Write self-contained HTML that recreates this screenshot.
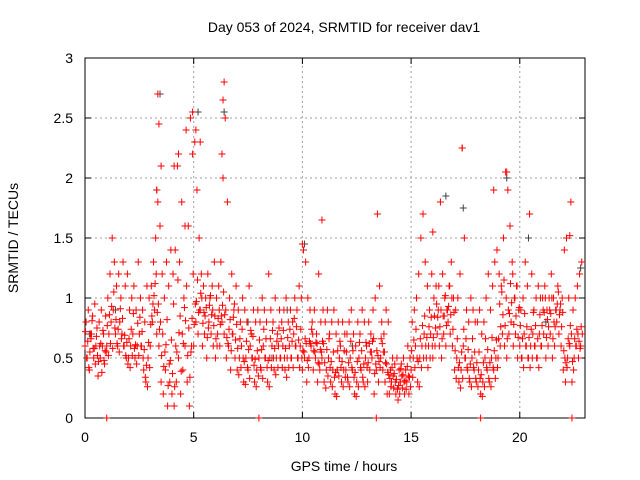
<!DOCTYPE html>
<html><head><meta charset="utf-8"><style>
html,body{margin:0;padding:0;background:#fff}
svg{display:block;font-family:"Liberation Sans",sans-serif}
</style></head><body>
<svg id="chart" width="640" height="480">
<g id="grid"></g>
<g id="axes"></g>
<g id="black"></g>
<g id="red"></g>
<text x="344" y="32" font-size="14" text-anchor="middle">Day 053 of 2024, SRMTID for receiver dav1</text>
<text x="344" y="471" font-size="14" text-anchor="middle">GPS time / hours</text>
<text transform="translate(18,238) rotate(-90)" font-size="14" text-anchor="middle">SRMTID / TECUs</text>
</svg>
<script>
const xTicks=[0,5,10,15,20];
const yTicks=[0,0.5,1,1.5,2,2.5,3];
const yTickLabels=["0","0.5","1","1.5","2","2.5","3"];
const seriesA=[.6,.5,.4,.7,.5,.6,.35,.5,.6,.45,.6,.7,.8,.9,.7,.6,.8,.7,.6,.5,.5,.6,.7,.5,.6,.7,.6,.4,.3,.5,.6,.8,.9,.7,.6,.3,.2,.4,.1,.3,.2,.1,.3,.5,.2,.4,.6,.3,.1,.6,.6,.8,.7,.9,.6,.7,.5,.8,.7,.6,.5,.7,.6,.8,.7,.5,.6,.4,.7,.5,.4,.5,.6,.3,.5,.4,.6,.5,.3,.4,.5,.4,.6,.5,.3,.5,.6,.4,.5,.6,.5,.6,.4,.5,.6,.5,.7,.6,.5,.6,.4,.5,.3,.5,.6,.4,.5,.3,.4,.5,.3,.4,.5,.3,.4,.2,.4,.5,.3,.4,.4,.3,.5,.4,.2,.3,.5,.4,.3,.5,.3,.4,.5,.2,.4,.3,.5,.4,.3,.2,.2,.3,.25,.2,.15,.3,.25,.2,.3,.2,.4,.5,.6,.3,.5,.6,.7,.5,.6,.7,.5,.6,.7,.6,.5,.7,.6,.8,.7,.6,.4,.5,.3,.4,.6,.5,.4,.3,.5,.4,.3,.4,.2,.3,.5,.4,.3,.5,.4,.5,.5,.6,.7,.6,.5,.7,.8,.6,.7,.5,.6,.5,.7,.6,.5,.6,.7,.6,.5,.7,.6,.7,.5,.6,.7,.5,.6,.8,.7,.6,.4,.3,.5,.6,.3,.5,.6,.5,.6];
const seriesB=[.8,.9,.7,.85,.95,.75,.8,.9,.7,.85,1.0,1.2,1.5,1.3,1.1,1.2,1.0,1.3,1.1,1.2,.9,1.0,1.1,.9,1.3,1.0,.9,.8,1.1,1.0,1.1,1.3,1.5,1.8,1.6,1.2,1.0,1.3,1.1,1.4,1.2,1.4,2.1,1.3,1.8,1.0,2.4,1.6,2.5,2.2,2.3,1.9,1.5,1.2,1.1,1.0,1.2,1.0,1.1,1.3,1.0,1.1,1.3,2.0,2.5,1.8,1.0,1.2,.9,1.1,.9,.8,1.0,.9,.8,1.1,.7,.9,.8,.9,.8,1.0,.9,.8,1.2,.9,.8,1.0,.7,.9,.8,.9,1.0,.8,.9,.8,1.0,.9,1.1,1.0,1.4,1.3,1.0,.9,.8,.9,.7,1.2,.8,.9,.8,.9,.7,.8,.9,.7,.8,.6,.8,.7,.7,.8,.9,.7,.6,.8,.7,.9,.8,.6,.8,.7,.9,1.0,1.7,1.1,.8,.7,.9,.8,.4,.5,.45,.5,.4,.45,.5,.4,.6,.5,.8,.9,1.0,1.2,1.5,1.7,1.3,1.1,.9,1.2,1.0,1.1,.9,1.8,1.2,1.0,.9,1.1,1.3,1.0,.9,1.0,1.2,2.25,1.5,.9,.8,1.0,.9,.8,.8,.9,.7,.8,1.0,1.2,.9,1.1,1.3,1.4,1.2,1.1,1.5,2.05,1.9,1.6,1.3,1.0,1.1,.9,.9,1.0,1.3,1.1,1.7,1.2,.9,1.0,1.1,1.0,1.0,1.1,.9,1.0,1.2,1.0,.9,1.1,.9,1.0,1.4,1.5,1.0,1.8,.9,1.0,1.1,1.2,1.3];
const seriesC=[.72,.64,.55,.81,.58,.68,.47,.62,.73,.56,.77,.86,.93,1.05,.82,.74,.91,.83,.69,.63,.66,.74,.87,.61,.79,.84,.72,.57,.44,.63,.78,.95,1.12,.88,.74,.52,.43,.61,.27,.48,.37,.26,.55,.71,.39,.62,.81,.52,.34,.83,.78,.97,.88,1.04,.79,.85,.67,.94,.86,.77,.66,.83,.78,.94,.86,.67,.74,.56,.84,.65,.58,.66,.74,.47,.64,.57,.73,.68,.49,.56,.65,.57,.74,.66,.48,.66,.73,.58,.64,.75,.66,.73,.58,.67,.74,.64,.83,.76,.65,.74,.56,.66,.48,.64,.74,.56,.63,.46,.57,.64,.46,.57,.66,.47,.55,.38,.56,.64,.47,.56,.55,.46,.64,.56,.38,.47,.63,.56,.45,.63,.46,.55,.64,.37,.56,.47,.66,.55,.46,.38,.33,.42,.37,.32,.27,.41,.36,.31,.43,.34,.56,.65,.74,.47,.66,.77,.85,.67,.76,.84,.67,.75,.84,.76,.66,.85,.77,.93,.86,.74,.56,.66,.46,.55,.74,.66,.57,.45,.66,.55,.46,.55,.36,.46,.66,.57,.46,.67,.56,.65,.66,.76,.86,.77,.66,.87,.96,.78,.85,.67,.77,.66,.87,.76,.67,.74,.88,.77,.66,.86,.77,.88,.67,.76,.87,.66,.76,.95,.86,.76,.56,.46,.66,.77,.47,.66,.74,.64,.76];
const seriesD=[.5,.42,.66,.58,.45,.52,.6,.38,.48,.55,.52,.62,.58,.75,.62,.55,.66,.6,.52,.45,.42,.52,.58,.45,.52,.6,.5,.34,.26,.42,.85,1.02,1.2,.95,.8,.7,.55,.82,.45,.65,.95,.6,1.15,.85,.7,.92,1.1,.75,.55,1.2,.95,1.15,.9,1.0,.88,.92,.75,1.02,.9,.85,.6,.9,.85,1.05,.9,.62,.82,.7,.95,.78,.36,.42,.5,.28,.42,.33,.5,.44,.26,.35,.42,.33,.5,.42,.26,.42,.5,.36,.42,.5,.42,.5,.34,.42,.5,.42,.6,.5,.42,.5,.55,.62,.42,.62,.7,.55,.62,.45,.55,.62,.25,.35,.42,.26,.34,.18,.35,.42,.26,.34,.34,.26,.42,.34,.18,.26,.42,.34,.26,.42,.62,.55,.66,.45,.52,.42,.62,.55,.45,.36,.26,.35,.3,.24,.2,.35,.3,.24,.35,.26,.34,.42,.5,.26,.42,.5,.6,.42,.5,.6,.85,.95,1.1,.9,.85,1.02,.9,1.1,1.0,.88,.33,.42,.25,.33,.5,.42,.33,.26,.42,.33,.26,.33,.18,.26,.42,.33,.26,.42,.33,.42,.95,1.05,1.15,1.0,.9,1.12,1.2,1.0,1.1,.92,.5,.42,.6,.5,.42,.5,.6,.5,.42,.6,.9,1.0,.82,.9,1.0,.8,.9,1.05,.95,.88,.5,.42,.62,.7,.4,.6,.7,.58,.7];
const spikeTimes=[3.35,3.4,3.5,4.3,4.6,4.95,5.1,6.35,6.4,17.35,19.4,1.0,8.0,13.4,18.2,22.4,22.3,3.3,4.1,5.3,6.3,10.0,10.9,16.0,18.8];
const spikeValues=[2.7,2.45,2.1,2.2,1.6,2.55,2.4,2.65,2.8,2.25,2.05,0,0,0,0,0,1.52,1.9,2.1,2.3,2.2,1.45,1.65,1.55,1.9];
const blackTimes=[0.2,1.4,3.3,3.45,5.2,6.4,7.5,9.3,10.1,12.3,14.5,16.6,17.4,19.4,20.4,22.8,2.6,8.6,11.6,21.2];
const blackValues=[0.7,0.9,1.9,2.7,2.55,2.55,0.8,0.9,1.45,0.6,0.3,1.85,1.75,2.0,1.5,1.25,0.6,0.5,0.4,0.8];
const X0=85,X1=585,Y0=418,Y1=58,XMAX=23,YMAX=3;
const xs=v=>X0+(X1-X0)*v/XMAX, ys=v=>Y0-(Y0-Y1)*v/YMAX;
const NS="http://www.w3.org/2000/svg";
function mk(tag,attrs,parent){const e=document.createElementNS(NS,tag);for(const k in attrs)e.setAttribute(k,attrs[k]);parent.appendChild(e);return e;}
const grid=document.getElementById('grid'),axes=document.getElementById('axes');
xTicks.forEach(t=>{const x=xs(t);
 if(t>0){const g=mk('line',{x1:x,x2:x,y1:Y0,y2:Y1,stroke:'#a0a0a0','stroke-dasharray':'2,3'},grid);
 
 }
 mk('line',{x1:x,x2:x,y1:Y0,y2:Y0-6,stroke:'#000'},axes);mk('line',{x1:x,x2:x,y1:Y1,y2:Y1+6,stroke:'#000'},axes);
 const l=mk('text',{x:x,y:Y0+24,'font-size':14,'text-anchor':'middle'},axes);l.textContent=t;
 
 });
yTicks.forEach((t,i)=>{const y=ys(t);
 if(t>0&&t<3){const g=mk('line',{x1:X0,x2:X1,y1:y,y2:y,stroke:'#a0a0a0','stroke-dasharray':'2,3'},grid);
 
 }
 mk('line',{x1:X0,x2:X0+6,y1:y,y2:y,stroke:'#000'},axes);mk('line',{x1:X1,x2:X1-6,y1:y,y2:y,stroke:'#000'},axes);
 const l=mk('text',{x:X0-12,y:y+5,'font-size':14,'text-anchor':'end'},axes);l.textContent=yTickLabels[i];
 
 });
const fr=mk('rect',{x:X0,y:Y1,width:X1-X0,height:Y0-Y1,fill:'none',stroke:'#000'},axes);


function plus(g,t,v,col){const x=xs(t),y=ys(v);
 const p=mk('path',{d:`M${x-3.5},${y}h7M${x},${y-3.5}v7`,stroke:col,'stroke-width':1,fill:'none'},g);
 
 }
const bg=document.getElementById('black'),rg=document.getElementById('red');
blackTimes.forEach((t,i)=>plus(bg,t,blackValues[i],'#404040'));
seriesA.forEach((v,i)=>plus(rg,i*0.1,v,'#ff0000'));
seriesB.forEach((v,i)=>plus(rg,i*0.1+0.05,v,'#ff0000'));
seriesC.forEach((v,i)=>plus(rg,i*0.1+0.025,v,'#ff0000'));
seriesD.forEach((v,i)=>plus(rg,i*0.1+0.075,v,'#ff0000'));
spikeTimes.forEach((t,i)=>plus(rg,t,spikeValues[i],'#ff0000'));
</script>
</body></html>
